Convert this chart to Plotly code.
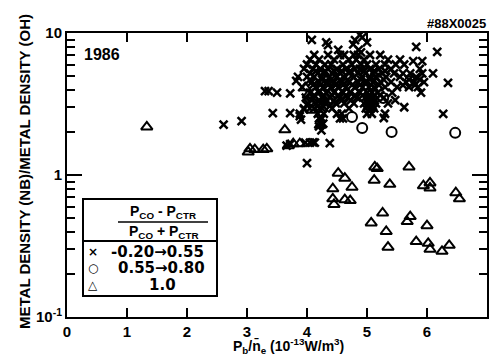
import plotly.graph_objects as go

# ---------------- data ----------------
x_ticks = [0, 1, 2, 3, 4, 5, 6, 7]
y_ticks = [0.1, 1, 10]
y_ticktext = ["10<sup>-1</sup>", "1", "10"]
y_minor = [0.2, 0.3, 0.4, 0.5, 0.6, 0.7, 0.8, 0.9, 2, 3, 4, 5, 6, 7, 8, 9]

# ratio -0.20 -> 0.55 (crosses)
cross_x = [
    2.61, 2.91, 3.30, 3.36, 3.50, 3.72, 3.43, 3.72, 3.66, 3.72, 3.97, 4.05, 4.10, 4.13, 4.38, 4.00,
    4.24, 4.20, 3.88, 3.90, 3.95, 4.00, 3.82, 3.85, 4.08, 4.32, 4.35, 4.80, 5.00, 4.88, 4.92, 4.77,
    4.86, 4.90, 4.52, 5.82, 6.17, 6.10, 6.35, 6.27, 5.92, 5.77, 5.62, 5.28, 5.47,
    4.12, 4.35, 4.55, 4.62, 4.78, 4.85, 5.05, 5.22,
    4.05, 4.20, 4.45, 4.70, 4.82, 4.95, 5.35, 5.55,
    4.00, 4.15, 4.30, 4.40, 4.60, 4.75, 4.90, 5.00, 5.15, 5.30, 5.48, 5.62,
    3.95, 4.10, 4.22, 4.35, 4.50, 4.65, 4.80, 4.88, 5.05, 5.20, 5.40, 5.88,
    4.15, 4.30, 4.45, 4.58, 4.72, 4.95, 5.12, 5.30,
    4.05, 4.18, 4.28, 4.42, 4.55, 4.70, 4.85, 4.97, 5.10, 5.25, 5.45, 5.60, 5.72, 5.92,
    4.00, 4.12, 4.25, 4.38, 4.50, 4.62, 4.78, 4.92, 5.05, 5.15, 5.32, 5.55, 5.82,
    4.05, 4.25, 4.40, 4.55, 4.68, 4.90, 5.05, 5.28, 5.70, 5.88,
    4.08, 4.20, 4.33, 4.45, 4.58, 4.70, 4.85, 4.98, 5.10, 5.22, 5.40, 5.65, 5.78, 5.95,
    4.10, 4.22, 4.35, 4.48, 4.60, 4.75, 4.88, 5.07, 5.20, 5.60, 5.80,
    3.92, 4.15, 4.27, 4.40, 4.52, 4.65, 4.80, 4.93, 5.03, 5.12, 5.30, 5.50, 5.70, 5.85,
    4.05, 4.20, 4.32, 4.45, 4.60, 4.72, 4.88, 5.00, 5.08, 5.18, 5.42, 5.90,
    4.12, 4.28, 4.42, 4.52, 4.65, 4.80, 4.93, 5.05, 5.12, 5.22,
    3.98, 4.10, 4.25, 4.38, 4.55, 4.68, 4.83, 4.97, 5.03, 5.10, 5.28,
    4.08, 4.20, 4.33, 4.45, 4.58, 4.73, 5.00, 5.06, 5.13,
    4.02, 4.15, 4.22, 4.30, 4.48, 4.62, 4.78, 4.95, 5.02, 5.08, 5.15, 5.35,
    4.18, 4.27, 4.38, 5.00, 5.07, 5.10,
    3.95, 4.12, 4.25, 4.42, 4.70, 4.98, 5.05, 5.12,
    3.88, 4.18, 4.28, 4.50, 4.58, 5.00, 5.08, 5.30,
    4.20, 4.25, 4.55, 4.60,
    4.22, 4.27,
]
cross_y = [
    2.26, 2.40, 3.90, 3.90, 3.80, 3.76, 2.73, 2.73, 1.61, 1.65, 1.69, 1.69, 1.70, 1.69, 1.68, 1.21,
    2.06, 2.20, 2.60, 2.45, 2.90, 3.10, 4.60, 4.90, 8.93, 8.60, 8.20, 8.90, 8.60, 9.70, 9.30, 8.30,
    7.60, 7.30, 7.60, 8.00, 7.35, 5.20, 4.45, 2.69, 6.35, 6.35, 3.00, 2.52, 3.37,
    7.0, 7.0, 7.0, 7.0, 7.0, 7.0, 7.0, 7.0,
    6.5, 6.5, 6.5, 6.5, 6.5, 6.5, 6.5, 6.5,
    6.0, 6.0, 6.0, 6.0, 6.0, 6.0, 6.0, 6.0, 6.0, 6.0, 6.0, 6.0,
    5.6, 5.6, 5.6, 5.6, 5.6, 5.6, 5.6, 5.6, 5.6, 5.6, 5.6, 5.6,
    5.4, 5.4, 5.4, 5.4, 5.4, 5.4, 5.4, 5.4,
    5.2, 5.2, 5.2, 5.2, 5.2, 5.2, 5.2, 5.2, 5.2, 5.2, 5.2, 5.2, 5.2, 5.2,
    4.9, 4.9, 4.9, 4.9, 4.9, 4.9, 4.9, 4.9, 4.9, 4.9, 4.9, 4.9, 4.9,
    4.7, 4.7, 4.7, 4.7, 4.7, 4.7, 4.7, 4.7, 4.7, 4.7,
    4.5, 4.5, 4.5, 4.5, 4.5, 4.5, 4.5, 4.5, 4.5, 4.5, 4.5, 4.5, 4.5, 4.5,
    4.3, 4.3, 4.3, 4.3, 4.3, 4.3, 4.3, 4.3, 4.3, 4.3, 4.3,
    4.15, 4.15, 4.15, 4.15, 4.15, 4.15, 4.15, 4.15, 4.15, 4.15, 4.15, 4.15, 4.15, 4.15,
    3.8, 3.8, 3.8, 3.8, 3.8, 3.8, 3.8, 3.8, 3.8, 3.8, 3.8, 3.8,
    3.65, 3.65, 3.65, 3.65, 3.65, 3.65, 3.65, 3.65, 3.65, 3.65,
    3.5, 3.5, 3.5, 3.5, 3.5, 3.5, 3.5, 3.5, 3.5, 3.5, 3.5,
    3.35, 3.35, 3.35, 3.35, 3.35, 3.35, 3.35, 3.35, 3.35,
    3.2, 3.2, 3.2, 3.2, 3.2, 3.2, 3.2, 3.2, 3.2, 3.2, 3.2, 3.2,
    3.05, 3.05, 3.05, 3.05, 3.05, 3.05,
    2.95, 2.95, 2.95, 2.95, 2.95, 2.95, 2.95, 2.95,
    2.7, 2.7, 2.7, 2.7, 2.7, 2.7, 2.7, 2.7,
    2.5, 2.5, 2.5, 2.5,
    2.3, 2.3,
]

# ratio 0.55 -> 0.80 (circles)
circ_x = [4.75, 4.92, 5.41, 6.47, 5.27, 5.72]
circ_y = [2.56, 2.14, 2.01, 1.98, 3.48, 4.60]

# ratio 1.0 (triangles)
tri_x = [1.33, 3.02, 3.05, 3.13, 3.27, 3.33, 3.63, 3.69, 3.77, 3.88, 3.97, 4.02, 4.08, 4.12, 4.22,
         4.52, 4.63, 4.75, 4.43, 4.43, 4.45, 4.63, 4.72, 5.13, 5.17, 5.12, 5.38, 5.70, 5.07, 5.26,
         5.32, 5.35, 5.67, 5.72, 5.82, 5.94, 6.05, 6.05, 6.00, 6.02, 6.05, 6.25, 6.37, 6.48, 6.54]
tri_y = [2.18, 1.45, 1.53, 1.51, 1.51, 1.53, 2.08, 1.61, 1.66, 1.66, 4.12, 3.65, 2.86, 3.00, 2.24,
         1.03, 0.95, 0.82, 0.80, 0.68, 0.62, 0.67, 0.66, 1.14, 1.11, 0.92, 0.86, 1.14, 0.46, 0.54,
         0.40, 0.31, 0.47, 0.51, 0.34, 0.84, 0.88, 0.81, 0.44, 0.33, 0.30, 0.29, 0.32, 0.75, 0.68]

legend_rows = ["\u00d7", "\u25cb", "\u25b3"]
legend_labels = ["-0.20\u21920.55", "0.55\u21920.80", "1.0"]

# ---------------- figure ----------------
FONT = "Liberation Sans"
LFONT = "DejaVu Sans"
W, H = 489, 361
PL, PR, PT, PB = 67, 487, 33, 317  # plot area in pixels


def px(x):
    return (x - PL) / (PR - PL)


def py(y):
    return (PB - y) / (PB - PT)


fig = go.Figure()
fig.add_trace(go.Scatter(
    x=cross_x, y=cross_y, mode="markers",
    marker=dict(symbol="x-thin-open", size=8, color="black", line=dict(width=2.5, color="black")),
))
fig.add_trace(go.Scatter(
    x=circ_x, y=circ_y, mode="markers", yaxis="y2",
    marker=dict(symbol="circle-open", size=10, color="black", line=dict(width=2, color="black")),
))
fig.add_trace(go.Scatter(
    x=tri_x, y=tri_y, mode="markers",
    marker=dict(symbol="triangle-up-open", size=10, color="black", line=dict(width=2, color="black")),
))

tickfont = dict(family=FONT, size=15, color="black", weight="bold")

fig.update_layout(
    width=W, height=H,
    margin=dict(l=PL, r=W - PR, t=PT, b=H - PB, autoexpand=False),
    paper_bgcolor="white", plot_bgcolor="white",
    showlegend=False,
    xaxis=dict(
        range=[0, 7], tickmode="array", tickvals=x_ticks, ticks="inside", ticklen=9, tickwidth=2,
        tickcolor="black", showline=True, linewidth=2, linecolor="black", mirror="ticks",
        showgrid=False, zeroline=False, tickfont=tickfont,
    ),
    # short ticks at every 2..9 step (no labels)
    yaxis=dict(
        type="log", range=[-1, 1], tickmode="array", tickvals=y_minor, showticklabels=False,
        ticks="inside", ticklen=8, tickwidth=2, tickcolor="black",
        showline=True, linewidth=2, linecolor="black", mirror="ticks",
        showgrid=False, zeroline=False,
    ),
    # long decade ticks with labels
    yaxis2=dict(
        type="log", range=[-1, 1], overlaying="y", side="left", tickmode="array",
        tickvals=y_ticks, ticktext=y_ticktext, tickfont=tickfont,
        ticks="inside", ticklen=15, tickwidth=2, tickcolor="black",
        showline=True, linewidth=2, linecolor="black", mirror="ticks",
        showgrid=False, zeroline=False,
    ),
)


def text(t, x, y, size, family=FONT, xanchor="center", angle=0):
    return dict(text=t, x=px(x), y=py(y), xref="paper", yref="paper", xanchor=xanchor, yanchor="middle",
                textangle=angle, showarrow=False,
                font=dict(family=family, size=size, color="black", weight="bold"))


ann = [
    text("METAL DENSITY (NB)/METAL DENSITY (OH)", 24, 172, 15, angle=-90),
    text("P<sub>b</sub>/n\u0304<sub>e</sub> (10<sup>-13</sup>W/m<sup>3</sup>)", 288, 346, 14),
    text("#88X0025", 488, 23, 13, xanchor="right"),
    text("1986", 82, 54, 16, xanchor="left"),
    text("P<sub>CO</sub> - P<sub>CTR</sub>", 163, 212, 14),
    text("P<sub>CO</sub> + P<sub>CTR</sub>", 163, 232, 14),
]
row_y = [252, 268, 285]
label_x = [157, 161, 162]
for sym, lab, yy, lx in zip(legend_rows, legend_labels, row_y, label_x):
    ann.append(text(sym, 93, yy, 12, family=LFONT))
    ann.append(text(lab, lx, yy, 15, family=LFONT))
fig.update_layout(annotations=ann)

shapes = [
    dict(type="rect", xref="paper", yref="paper", x0=px(83), x1=px(217), y0=py(296), y1=py(199),
         line=dict(color="black", width=2), fillcolor="white", layer="above"),
    dict(type="line", xref="paper", yref="paper", x0=px(83), x1=px(217), y0=py(241), y1=py(241),
         line=dict(color="black", width=2)),
    dict(type="line", xref="paper", yref="paper", x0=px(118), x1=px(208), y0=py(222), y1=py(222),
         line=dict(color="black", width=1.5)),
]
fig.update_layout(shapes=shapes)

fig.write_html("out.html", config={"displayModeBar": False},
               post_script="document.body.style.margin='0';document.body.style.padding='0';")
